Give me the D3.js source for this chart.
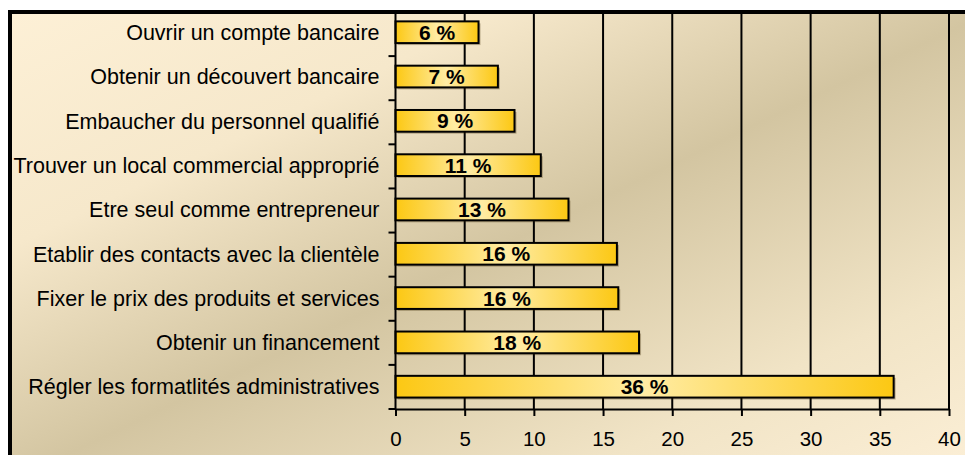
<!DOCTYPE html>
<html>
<head>
<meta charset="utf-8">
<script src="https://cdn.jsdelivr.net/npm/d3@7"></script>
<style>
  body { margin: 0; background: #fff; }
  svg text { font-family: "Liberation Sans", Arial, sans-serif; fill: #000; }
</style>
</head>
<body>
<div class="chart"></div>
<script>
var categories = [
  "Ouvrir un compte bancaire",
  "Obtenir un découvert bancaire",
  "Embaucher du personnel qualifié",
  "Trouver un local commercial approprié",
  "Etre seul comme entrepreneur",
  "Etablir des contacts avec la clientèle",
  "Fixer le prix des produits et services",
  "Obtenir un financement",
  "Régler les formatlités administratives"
];
var values = [6, 7.4, 8.6, 10.5, 12.5, 16, 16.1, 17.6, 36];
var valueLabels = ["6 %", "7 %", "9 %", "11 %", "13 %", "16 %", "16 %", "18 %", "36 %"];
var xTicks = [0, 5, 10, 15, 20, 25, 30, 35, 40];

var svgWidth = 965;
var svgHeight = 455;

var margin = { top: 12, right: 16, bottom: 46, left: 395.5 };
var width = svgWidth - margin.left - margin.right;
var height = svgHeight - margin.top - margin.bottom;

var svg = d3.select(".chart")
  .append("svg")
  .attr("width", svgWidth)
  .attr("height", svgHeight);

var defs = svg.append("defs");

// parchment background: cream corners, tan diagonal band
var bg = defs.append("linearGradient")
  .attr("id", "bgGrad")
  .attr("x1", 0).attr("y1", 0).attr("x2", 1).attr("y2", 1);
bg.append("stop").attr("offset", "0%").attr("stop-color", "#fdf0d6");
bg.append("stop").attr("offset", "25%").attr("stop-color", "#f6e8cb");
bg.append("stop").attr("offset", "50%").attr("stop-color", "#d3c5a1");
bg.append("stop").attr("offset", "78%").attr("stop-color", "#f1e4c6");
bg.append("stop").attr("offset", "100%").attr("stop-color", "#fdf0d8");

var barGrad = defs.append("linearGradient")
  .attr("id", "barGrad")
  .attr("x1", 0).attr("y1", 0).attr("x2", 1).attr("y2", 0);
barGrad.append("stop").attr("offset", "0%").attr("stop-color", "#fcc813");
barGrad.append("stop").attr("offset", "50%").attr("stop-color", "#ffeca4");
barGrad.append("stop").attr("offset", "100%").attr("stop-color", "#fcc813");

svg.append("rect")
  .attr("x", 10)
  .attr("y", 12)
  .attr("width", 980)
  .attr("height", 470)
  .attr("fill", "url(#bgGrad)")
  .attr("stroke", "#000")
  .attr("stroke-width", 4);

var x = d3.scaleLinear()
  .domain([0, 40])
  .range([0, width]);

var y = d3.scaleBand()
  .domain(categories)
  .range([0, height])
  .paddingInner(0.51)
  .paddingOuter(0.235)
  .align(0.45);

var chartGroup = svg.append("g")
  .attr("transform", `translate(${margin.left}, ${margin.top})`);

// vertical gridlines
chartGroup.selectAll(".grid")
  .data(xTicks.filter(d => d > 0))
  .enter()
  .append("line")
  .attr("x1", d => x(d))
  .attr("x2", d => x(d))
  .attr("y1", 0)
  .attr("y2", height)
  .attr("stroke", "#000")
  .attr("stroke-width", 2);

// bar shadows
chartGroup.selectAll(".shadow")
  .data(values)
  .enter()
  .append("rect")
  .attr("x", 2)
  .attr("y", (d, i) => y(categories[i]) + 2)
  .attr("width", d => x(d))
  .attr("height", y.bandwidth())
  .attr("fill", "rgba(60,40,0,0.3)");

chartGroup.selectAll(".bar")
  .data(values)
  .enter()
  .append("rect")
  .attr("x", 0)
  .attr("y", (d, i) => y(categories[i]))
  .attr("width", d => x(d))
  .attr("height", y.bandwidth())
  .attr("fill", "url(#barGrad)")
  .attr("stroke", "#000")
  .attr("stroke-width", 2);

chartGroup.selectAll(".barLabel")
  .data(values)
  .enter()
  .append("text")
  .attr("x", d => x(d) / 2)
  .attr("y", (d, i) => y(categories[i]) + y.bandwidth() / 2)
  .attr("dy", "0.36em")
  .attr("text-anchor", "middle")
  .attr("font-weight", "bold")
  .attr("font-size", 21)
  .text((d, i) => valueLabels[i]);

// category labels
chartGroup.selectAll(".catLabel")
  .data(categories)
  .enter()
  .append("text")
  .attr("x", -16)
  .attr("y", d => y(d) + y.bandwidth() / 2)
  .attr("dy", "0.36em")
  .attr("text-anchor", "end")
  .attr("font-size", 21.5)
  .text(d => d);

// y axis line and ticks at band boundaries
var step = height / categories.length;
chartGroup.append("line")
  .attr("x1", 0).attr("x2", 0)
  .attr("y1", 0).attr("y2", height)
  .attr("stroke", "#000")
  .attr("stroke-width", 2);

chartGroup.selectAll(".yTick")
  .data(d3.range(1, categories.length + 1))
  .enter()
  .append("line")
  .attr("x1", -7).attr("x2", 0)
  .attr("y1", d => d * step)
  .attr("y2", d => d * step)
  .attr("stroke", "#000")
  .attr("stroke-width", 2);

// x axis
var bottomAxis = d3.axisBottom(x)
  .tickValues(xTicks)
  .tickSizeInner(7)
  .tickSizeOuter(0)
  .tickPadding(15);

var xAxis = chartGroup.append("g")
  .attr("transform", `translate(0, ${height})`)
  .call(bottomAxis);

xAxis.select(".domain")
  .attr("stroke", "#000")
  .attr("stroke-width", 2);
xAxis.selectAll(".tick line")
  .attr("stroke", "#000")
  .attr("stroke-width", 2);
xAxis.selectAll(".tick text")
  .attr("font-family", "'Liberation Sans', Arial, sans-serif")
  .attr("font-size", 20.5)
  .attr("fill", "#000");
</script>
</body>
</html>
